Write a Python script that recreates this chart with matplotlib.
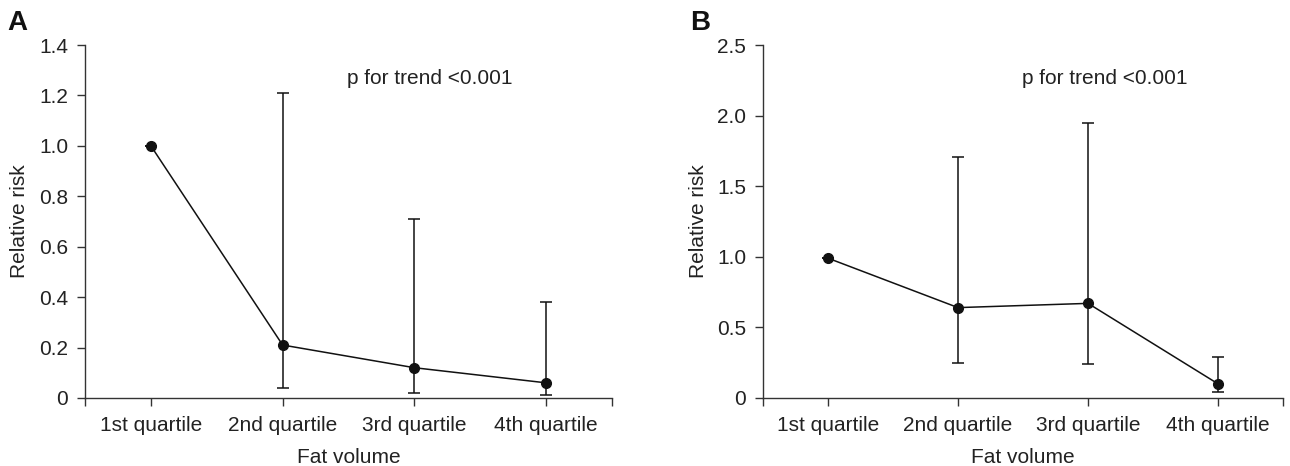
import matplotlib
matplotlib.use("Agg")
import matplotlib.pyplot as plt
from matplotlib.ticker import FixedLocator

plt.rcParams['font.family'] = ['Liberation Sans', 'DejaVu Sans']

# Data
quartiles = ["1st quartile", "2nd quartile", "3rd quartile", "4th quartile"]

rr_a = [1.0, 0.21, 0.12, 0.06]
lo_a = [1.0, 0.04, 0.02, 0.01]
hi_a = [1.0, 1.21, 0.71, 0.38]

rr_b = [0.99, 0.64, 0.67, 0.10]
lo_b = [0.99, 0.25, 0.24, 0.04]
hi_b = [0.99, 1.71, 1.95, 0.29]

yticks_a = [0, 0.2, 0.4, 0.6, 0.8, 1.0, 1.2, 1.4]
ylabels_a = ["0", "0.2", "0.4", "0.6", "0.8", "1.0", "1.2", "1.4"]
yticks_b = [0, 0.5, 1.0, 1.5, 2.0, 2.5]
ylabels_b = ["0", "0.5", "1.0", "1.5", "2.0", "2.5"]

trend_text = "p for trend <0.001"

fig = plt.figure(figsize=(12.9, 4.66), dpi=100)
ax_a = fig.add_axes([0.0659, 0.146, 0.4085, 0.7574])
ax_b = fig.add_axes([0.5915, 0.146, 0.4031, 0.7574])


def draw_panel(ax, rr, lo, hi, yticks, ylabels, letter, letter_x):
    x = list(range(len(quartiles)))
    yerr = [[r - l for r, l in zip(rr, lo)], [h - r for r, h in zip(rr, hi)]]
    ax.errorbar(x, rr, yerr=yerr, fmt='-o', color='#111111', lw=1.1,
                elinewidth=1.1, capsize=4.5, capthick=1.1, markersize=7)
    ax.set_xlim(-0.5, 3.5)
    ax.set_ylim(0, yticks[-1])
    ax.set_xticks(x)
    ax.set_xticklabels(quartiles, fontsize=15)
    ax.xaxis.set_minor_locator(FixedLocator([-0.5, 3.5]))
    ax.set_yticks(yticks)
    ax.set_yticklabels(ylabels, fontsize=15)
    ax.tick_params(axis='both', which='both', direction='out', length=6,
                   width=1, color='#333333', labelcolor='#222222')
    ax.tick_params(axis='x', pad=7)
    ax.tick_params(axis='y', pad=6)
    for side in ['top', 'right']:
        ax.spines[side].set_visible(False)
    for side in ['left', 'bottom']:
        ax.spines[side].set_color('#333333')
        ax.spines[side].set_linewidth(1)
    ax.set_ylabel("Relative risk", fontsize=15, color='#222222', labelpad=7)
    ax.set_xlabel("Fat volume", fontsize=15, color='#222222', labelpad=9)
    ax.text(1.49, 0.906, trend_text, transform=ax.get_xaxis_transform(),
            fontsize=15, color='#222222', ha='left', va='center')
    fig.text(letter_x, 0.979, letter, fontsize=20, fontweight='bold',
             ha='left', va='top', color='#111111')


draw_panel(ax_a, rr_a, lo_a, hi_a, yticks_a, ylabels_a, "A", 0.006)
draw_panel(ax_b, rr_b, lo_b, hi_b, yticks_b, ylabels_b, "B", 0.535)

fig.savefig("out.png", dpi=100)
